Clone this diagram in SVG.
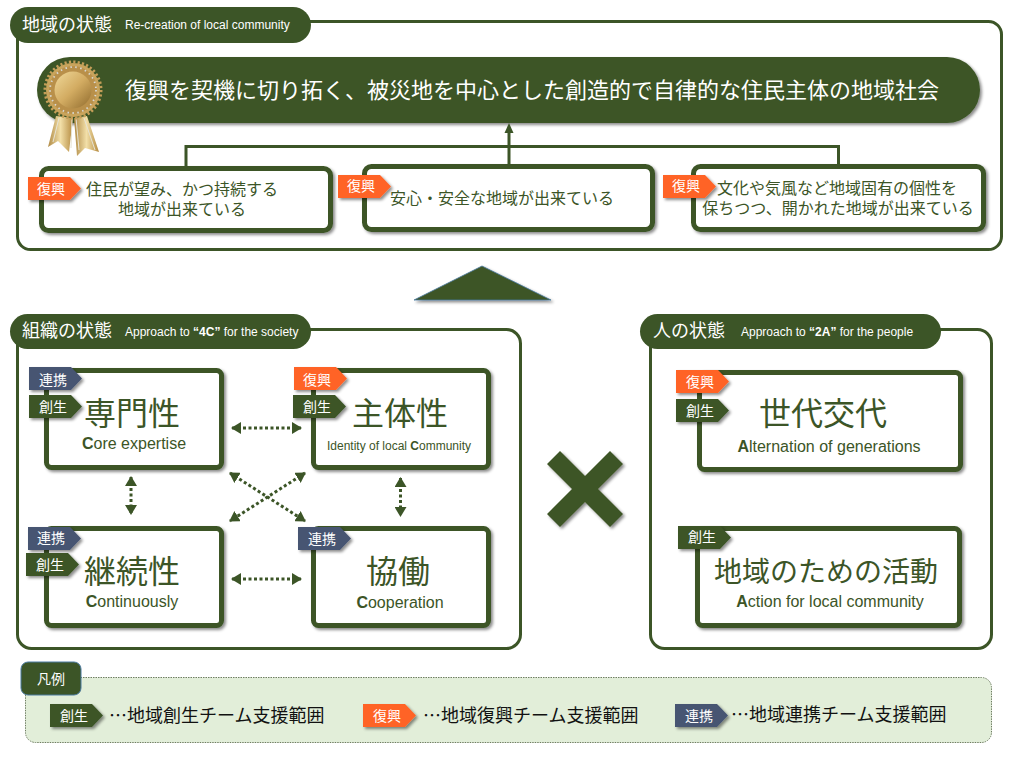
<svg xmlns="http://www.w3.org/2000/svg" width="1023" height="757" viewBox="0 0 1023 757">
<style>
text{font-family:"Noto Sans CJK JP","Liberation Sans",sans-serif}
.frame{fill:#fff;stroke:#3c5527;stroke-width:3}
.box{fill:#fff;stroke:#3c5527;stroke-width:5;filter:url(#sh)}
.pill{fill:#3c5527}
.ht{fill:#fff;font-size:18px}
.hs{fill:#fff;font-size:12px;font-family:"Liberation Sans",Arial,sans-serif}
.tagt{fill:#fff;font-size:14px;text-anchor:middle}
.body{fill:#3c5527;font-size:16px;text-anchor:middle}
.big{fill:#3c5527;font-size:32px;text-anchor:middle}
.sub{fill:#3c5527;font-size:16px;text-anchor:middle;font-family:"Liberation Sans",Arial,sans-serif}
.leg{fill:#111;font-size:18px}
.dot{fill:none;stroke:#3c5527;stroke-width:3;stroke-dasharray:3 2.500;marker-start:url(#ah);marker-end:url(#ah)}
.con{fill:none;stroke:#3c5527;stroke-width:3}
</style>
<defs>
<filter id="sh" x="-10%" y="-10%" width="125%" height="130%"><feDropShadow dx="2" dy="2" stdDeviation="1.6" flood-color="#000" flood-opacity=".45"/></filter>
<marker id="ah" markerUnits="userSpaceOnUse" markerWidth="11" markerHeight="12" refX="9" refY="6" orient="auto-start-reverse"><path d="M0 0L10 6L0 12Z" fill="#3c5527"/></marker>
<path id="tag" d="M0 0H42L53 11.500L42 23H0Z"/>
<linearGradient id="gold" x1="0" y1="0" x2="1" y2="1"><stop offset="0" stop-color="#f0d99a"/><stop offset=".5" stop-color="#d3ac62"/><stop offset="1" stop-color="#8f6a2c"/></linearGradient>
<linearGradient id="gold2" x1="0" y1="0" x2="1" y2="0"><stop offset="0" stop-color="#b08a45"/><stop offset=".5" stop-color="#f2dfa8"/><stop offset="1" stop-color="#b58b40"/></linearGradient>
</defs>

<g id="region-community">
<rect class="frame" x="17.500" y="21.500" width="984" height="228" rx="13"/>
<rect class="pill" x="10" y="7" width="301" height="36" rx="18"/>
<text class="ht" x="22" y="31">地域の状態</text>
<text class="hs" x="125" y="29">Re-creation of local community</text>
</g>

<g id="banner">
<rect x="37" y="57" width="943" height="66" rx="33" fill="#3c5527" filter="url(#sh)"/>
<text x="125" y="98" fill="#fff" font-size="22px">復興を契機に切り拓く、被災地を中心とした創造的で自律的な住民主体の地域社会</text>
<g id="medal">
<path d="M56 116L48 147L58 141L69 152L73 118Z" fill="url(#gold2)"/>
<path d="M74 118L77 156L85 148L99 152L87 116Z" fill="url(#gold2)"/>
<path d="M59 118L53 142M72 118L71 148M76 118L79 150M84 118L95 150" stroke="#e6e3d5" stroke-width="1" fill="none"/>
<circle cx="73" cy="90" r="27" fill="#c9a45c"/>
<circle cx="73" cy="90" r="28" fill="none" stroke="#c49e58" stroke-width="3" stroke-dasharray="2.200 2.200"/>
<circle cx="73" cy="90" r="24" fill="#b9904a"/>
<circle cx="73" cy="90" r="23" fill="none" stroke="#d8d8d2" stroke-width="1.800" stroke-dasharray="1.500 3.500"/>
<circle cx="73" cy="90" r="18.500" fill="url(#gold)"/>
</g>
</g>

<path id="up-triangle" d="M414 300L482 266L551 300Z" fill="#3c5527" stroke="#4a7aa0" stroke-width=".8" filter="url(#sh)"/>

<g id="region-org">
<rect class="frame" x="17.500" y="329.500" width="503" height="319" rx="14"/>
<rect class="pill" x="10" y="314" width="301" height="35" rx="17.500"/>
<text class="ht" x="22" y="337">組織の状態</text>
<text class="hs" x="125" y="336">Approach to <tspan font-weight="bold">“4C”</tspan> for the society</text>
</g>
<g id="region-people">
<rect class="frame" x="650.500" y="329.500" width="341" height="319" rx="14"/>
<rect class="pill" x="640" y="314" width="301" height="35" rx="17.500"/>
<text class="ht" x="653" y="337">人の状態</text>
<text class="hs" x="741" y="336">Approach to <tspan font-weight="bold">“2A”</tspan> for the people</text>
</g>

<g id="connectors">
<path class="con" d="M186 168V146.500H838.500V166"/>
<path class="con" d="M509 166V130"/>
<path d="M504.500 133L509 123L513.500 133Z" fill="#3c5527"/>
<path class="dot" d="M232 428H301"/>
<path class="dot" d="M232 579H301"/>
<path class="dot" d="M131 477V514"/>
<path class="dot" d="M400.500 478V516"/>
<path class="dot" d="M230 473L305 521"/>
<path class="dot" d="M305 473L230 521"/>
</g>

<g id="goal-1">
<rect class="box" x="41.500" y="168.500" width="289" height="62" rx="7"/>
<use href="#tag" x="28" y="177" fill="#ff6326" filter="url(#sh)"/>
<text class="tagt" x="51" y="194">復興</text>
<text class="body"><tspan x="182" y="195">住民が望み、かつ持続する</tspan><tspan x="182" y="215">地域が出来ている</tspan></text>
</g>
<g id="goal-2">
<rect class="box" x="364.500" y="166.500" width="288" height="63" rx="7"/>
<use href="#tag" x="338" y="175" fill="#ff6326" filter="url(#sh)"/>
<text class="tagt" x="361" y="191">復興</text>
<text class="body" x="502" y="204">安心・安全な地域が出来ている</text>
</g>
<g id="goal-3">
<rect class="box" x="693.500" y="166.500" width="290" height="63" rx="7"/>
<use href="#tag" x="663" y="175" fill="#ff6326" filter="url(#sh)"/>
<text class="tagt" x="686" y="191">復興</text>
<text class="body"><tspan x="837" y="194">文化や気風など地域固有の個性を</tspan><tspan x="838" y="214">保ちつつ、開かれた地域が出来ている</tspan></text>
</g>

<g id="node-expertise">
<rect class="box" x="46.500" y="370.500" width="175" height="97" rx="5"/>
<use href="#tag" x="29" y="367" fill="#465472" filter="url(#sh)"/>
<text class="tagt" x="53" y="385">連携</text>
<use href="#tag" x="29" y="395" fill="#3c5527" filter="url(#sh)"/>
<text class="tagt" x="53" y="412">創生</text>
<text class="big" x="132" y="425">専門性</text>
<text class="sub" x="134" y="449"><tspan font-weight="bold">C</tspan>ore expertise</text>
</g>
<g id="node-identity">
<rect class="box" x="313.500" y="370.500" width="175" height="97" rx="5"/>
<use href="#tag" x="294" y="367" fill="#ff6326" filter="url(#sh)"/>
<text class="tagt" x="317" y="385">復興</text>
<use href="#tag" x="293" y="395" fill="#3c5527" filter="url(#sh)"/>
<text class="tagt" x="317" y="412">創生</text>
<text class="big" x="400" y="425">主体性</text>
<text class="sub" x="399" y="450" style="font-size:12px">Identity of local <tspan font-weight="bold">C</tspan>ommunity</text>
</g>
<g id="node-continuity">
<rect class="box" x="46.500" y="528.500" width="175" height="97" rx="5"/>
<use href="#tag" x="28" y="527" fill="#465472" filter="url(#sh)"/>
<text class="tagt" x="51" y="543">連携</text>
<use href="#tag" x="26" y="553" fill="#3c5527" filter="url(#sh)"/>
<text class="tagt" x="50" y="570">創生</text>
<text class="big" x="132" y="583">継続性</text>
<text class="sub" x="132" y="607"><tspan font-weight="bold">C</tspan>ontinuously</text>
</g>
<g id="node-cooperation">
<rect class="box" x="313.500" y="528.500" width="175" height="97" rx="5"/>
<use href="#tag" x="298" y="527" fill="#465472" filter="url(#sh)"/>
<text class="tagt" x="322" y="544">連携</text>
<text class="big" x="398" y="583">協働</text>
<text class="sub" x="400" y="608"><tspan font-weight="bold">C</tspan>ooperation</text>
</g>

<path id="cross" d="M560 451L585 476L610 451L623 464L598 489L623 514L610 527L585 502L560 527L547 514L572 489L547 464Z" fill="#3c5527" filter="url(#sh)"/>

<g id="node-generations">
<rect class="box" x="699.500" y="372.500" width="261" height="97" rx="5"/>
<use href="#tag" x="676" y="370" fill="#ff6326" filter="url(#sh)"/>
<text class="tagt" x="700" y="387">復興</text>
<use href="#tag" x="676" y="399" fill="#3c5527" filter="url(#sh)"/>
<text class="tagt" x="700" y="416">創生</text>
<text class="big" x="823" y="425">世代交代</text>
<text class="sub" x="829" y="452"><tspan font-weight="bold">A</tspan>lternation of generations</text>
</g>
<g id="node-activity">
<rect class="box" x="697.500" y="528.500" width="262" height="97" rx="5"/>
<use href="#tag" x="678" y="526" fill="#3c5527" filter="url(#sh)"/>
<text class="tagt" x="702" y="542">創生</text>
<text class="big" x="826" y="582" style="font-size:28px">地域のための活動</text>
<text class="sub" x="830" y="607"><tspan font-weight="bold">A</tspan>ction for local community</text>
</g>

<g id="legend">
<rect x="25.500" y="677.500" width="966" height="65" rx="10" fill="#e2eed9" stroke="#6f7f62" stroke-width="1" stroke-dasharray="1.500 1"/>
<rect x="21" y="662" width="60" height="33" rx="7" fill="#3c5527" stroke="#4a7aa0" stroke-width="1"/>
<text class="tagt" x="51" y="684">凡例</text>
<use href="#tag" x="50" y="704" fill="#3c5527" filter="url(#sh)"/>
<text class="tagt" x="74" y="721">創生</text>
<text class="leg" x="109" y="722">…地域創生チーム支援範囲</text>
<use href="#tag" x="363" y="704" fill="#ff6326" filter="url(#sh)"/>
<text class="tagt" x="387" y="721">復興</text>
<text class="leg" x="423" y="722">…地域復興チーム支援範囲</text>
<use href="#tag" x="675" y="704" fill="#465472" filter="url(#sh)"/>
<text class="tagt" x="699" y="721">連携</text>
<text class="leg" x="731" y="721">…地域連携チーム支援範囲</text>
</g>
</svg>
